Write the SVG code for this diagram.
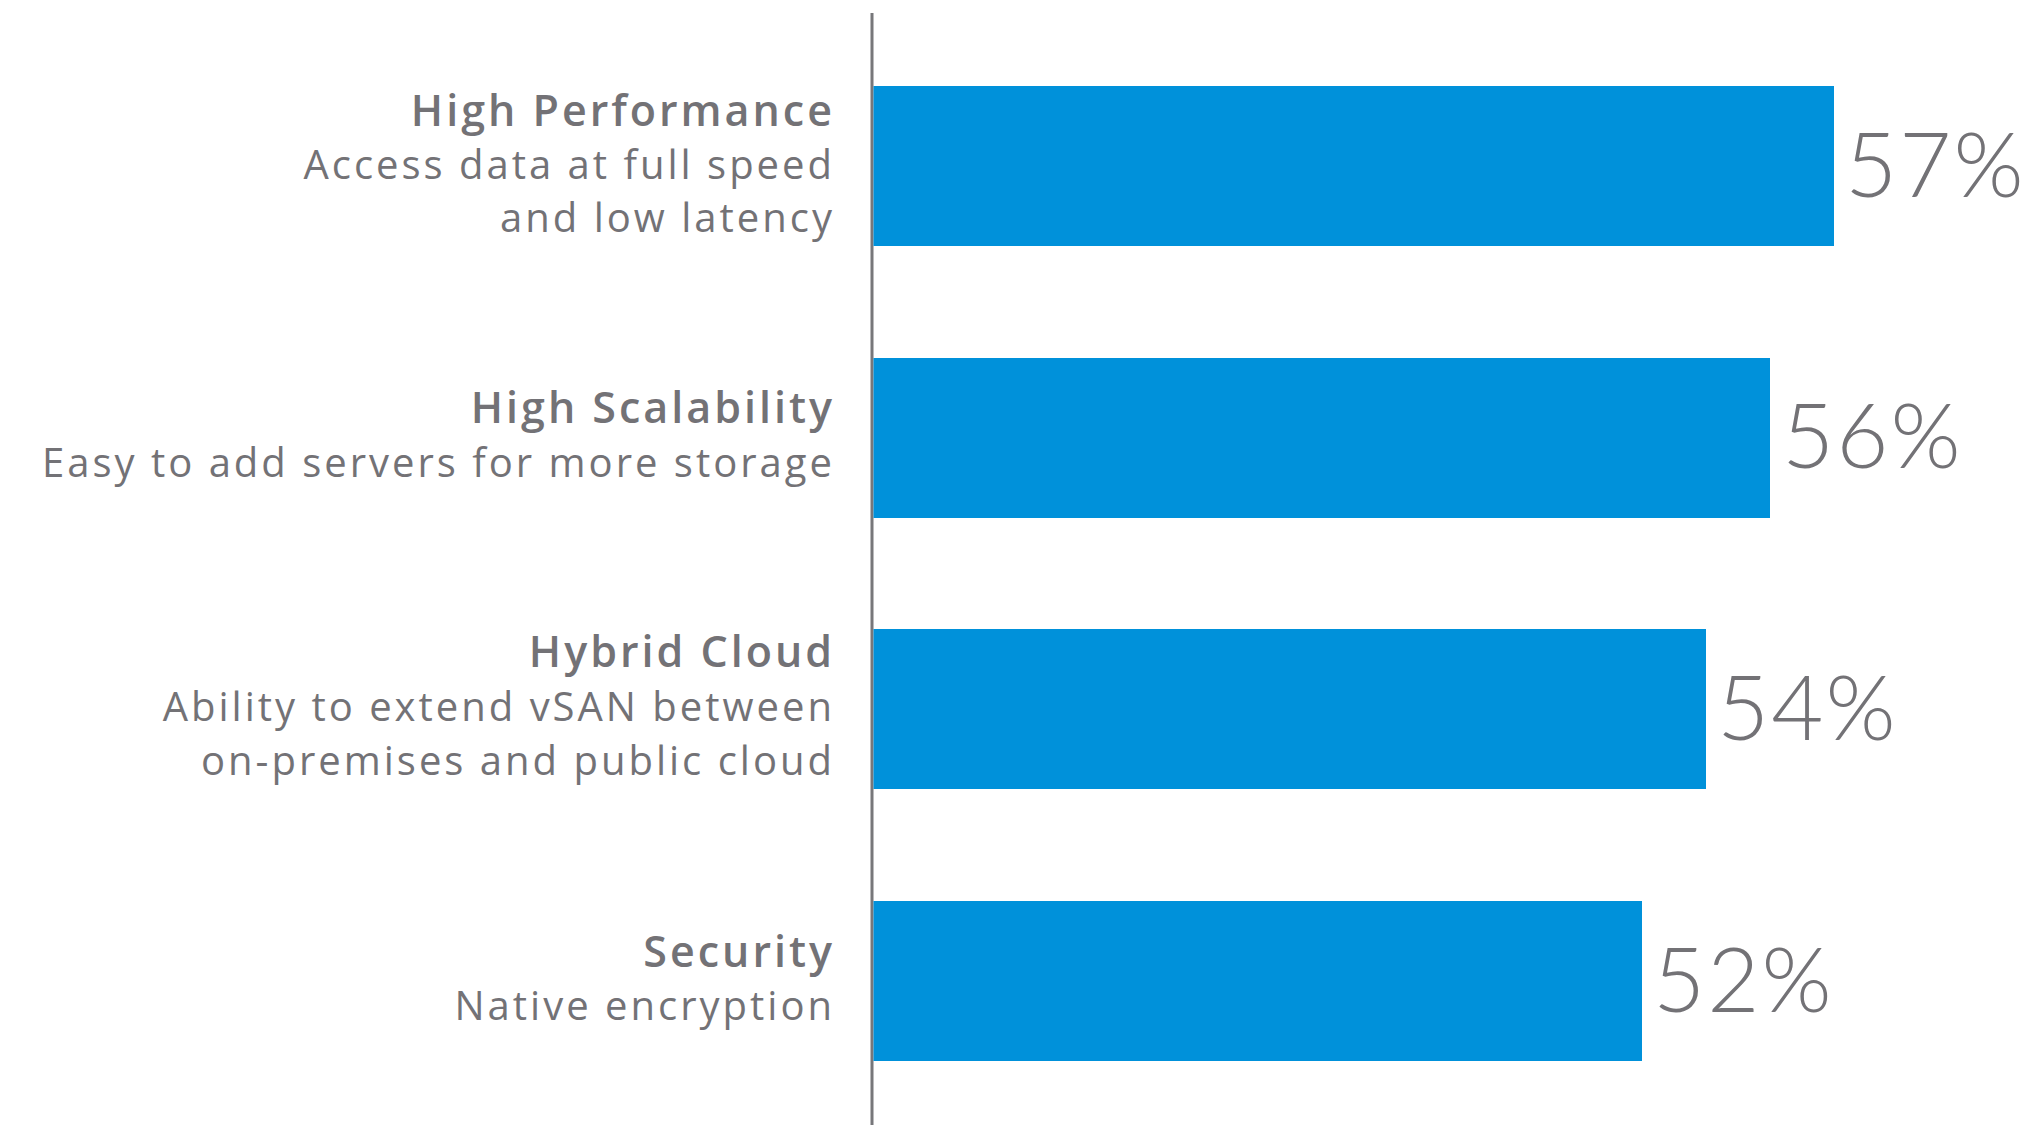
<svg xmlns="http://www.w3.org/2000/svg" width="2029" height="1125" viewBox="0 0 2029 1125">
<style>
.bar{fill:#0091DA}
.axis{stroke:#77777A;stroke-width:3;fill:none}
.t{font-family:"Open Sans","Liberation Sans",sans-serif;fill:#737276;text-anchor:end}
.title{font-size:43px;font-weight:600;letter-spacing:3px}
.sub{font-size:40px;font-weight:400;letter-spacing:3px}
.pct{font-family:Lato,"Open Sans","Liberation Sans",sans-serif;fill:#737276;font-size:90px;font-weight:300;letter-spacing:2px}
</style>
<rect width="2029" height="1125" fill="#ffffff"/>
<g id="axis"><line class="axis" x1="872" y1="13" x2="872" y2="1125"/></g>
<g id="bar-high-performance">
<rect class="bar" x="873.5" y="86" width="960.5" height="160"/>
<text class="t title" x="835" y="126">High Performance</text>
<text class="t sub" x="835" y="179">Access data at full speed</text>
<text class="t sub" x="835" y="232">and low latency</text>
<text class="pct" x="1845" y="197">57%</text>
</g>
<g id="bar-high-scalability">
<rect class="bar" x="873.5" y="358" width="896.5" height="160"/>
<text class="t title" x="835" y="423">High Scalability</text>
<text class="t sub" x="835" y="477">Easy to add servers for more storage</text>
<text class="pct" x="1782" y="468">56%</text>
</g>
<g id="bar-hybrid-cloud">
<rect class="bar" x="873.5" y="629" width="832.5" height="160"/>
<text class="t title" x="835" y="667">Hybrid Cloud</text>
<text class="t sub" x="835" y="721">Ability to extend vSAN between</text>
<text class="t sub" x="835" y="775">on-premises and public cloud</text>
<text class="pct" x="1717" y="740">54%</text>
</g>
<g id="bar-security">
<rect class="bar" x="873.5" y="901" width="768.5" height="160"/>
<text class="t title" x="835" y="967">Security</text>
<text class="t sub" x="835" y="1020">Native encryption</text>
<text class="pct" x="1653" y="1012">52%</text>
</g>
</svg>
